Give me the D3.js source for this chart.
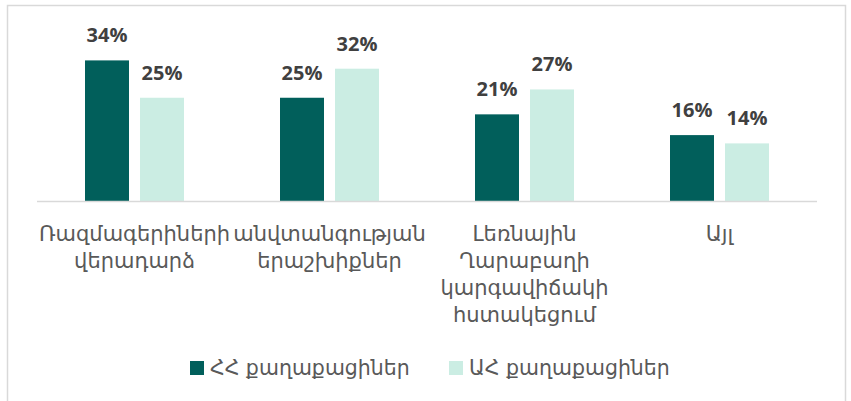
<!DOCTYPE html>
<html>
<head>
<meta charset="utf-8">
<script src="https://cdn.jsdelivr.net/npm/d3@7"></script>
<style>
  html, body { margin: 0; padding: 0; background: #fff; }
  svg { display: block; }
</style>
</head>
<body>
<div class="svg-container"></div>
<script>
// data
const categories = [
    ['Ռազմագերիների', 'վերադարձ'],
    ['անվտանգության', 'երաշխիքներ'],
    ['Լեռնային', 'Ղարաբաղի', 'կարգավիճակի', 'հստակեցում'],
    ['Այլ']
];
const seriesNames = ['ՀՀ քաղաքացիներ', 'ԱՀ քաղաքացիներ'];
const valuesRA = [0.34, 0.25, 0.21, 0.16];
const valuesAR = [0.25, 0.32, 0.27, 0.14];
const colors = ['#015f5b', '#cbede3'];

const W = 851, H = 401;
const baseY = 201.5;
const left = 37, right = 817;

var svg = d3.select('.svg-container')
    .append('svg')
    .attr('width', W)
    .attr('height', H);

// chart frame
svg.append('rect')
    .attr('x', 7.5).attr('y', 5.5)
    .attr('width', 838).attr('height', 410)
    .attr('fill', 'none')
    .attr('stroke', '#d9d9d9')
    .attr('stroke-width', 1.5);

const catKeys = categories.map(d => d.join(' '));
var x0 = d3.scaleBand().domain(catKeys).range([left, right]);
var groupW = 99;
var x1 = d3.scaleBand().domain(seriesNames)
    .range([x0.bandwidth() / 2 - groupW / 2, x0.bandwidth() / 2 + groupW / 2])
    .paddingInner(0.2);
var y = d3.scaleLinear().domain([0, 0.35]).range([baseY, baseY - 0.35 * 415]);

const rows = catKeys.map((c, i) => ({cat: c, lines: categories[i], vals: [valuesRA[i], valuesAR[i]]}));

var g = svg.append('g');

var groups = g.selectAll('.grp')
    .data(rows).enter().append('g')
    .attr('class', 'grp')
    .attr('transform', d => 'translate(' + x0(d.cat) + ',0)');

groups.selectAll('rect')
    .data(d => d.vals.map((v, j) => ({s: seriesNames[j], v: v, j: j})))
    .enter().append('rect')
    .attr('x', d => x1(d.s))
    .attr('y', d => y(d.v))
    .attr('width', x1.bandwidth())
    .attr('height', d => baseY - y(d.v))
    .attr('fill', d => colors[d.j]);

groups.selectAll('.text-label')
    .data(d => d.vals.map((v, j) => ({s: seriesNames[j], v: v, j: j})))
    .enter().append('text')
    .attr('class', 'text-label')
    .attr('x', d => x1(d.s) + x1.bandwidth() / 2)
    .attr('y', d => y(d.v) - 18)
    .attr('text-anchor', 'middle')
    .style('font-family', '"Open Sans", sans-serif')
    .style('font-weight', 'bold')
    .style('font-size', '20px')
    .attr('fill', '#404040')
    .text(d => Math.round(d.v * 100) + '%');

// axis line
g.append('line')
    .attr('x1', left).attr('x2', right)
    .attr('y1', baseY).attr('y2', baseY)
    .attr('stroke', '#d9d9d9')
    .attr('stroke-width', 1.5);

// category labels
groups.append('text')
    .attr('text-anchor', 'middle')
    .attr('fill', '#595959')
    .style('font-family', '"DejaVu Sans", sans-serif')
    .style('font-size', '21px')
    .selectAll('tspan')
    .data(d => d.lines).enter().append('tspan')
    .attr('x', x0.bandwidth() / 2)
    .attr('y', (d, i) => 241 + i * 27)
    .text(d => d);

// legend
const legendX = [190, 449];
var leg = svg.selectAll('.legend')
    .data(seriesNames).enter().append('g')
    .attr('class', 'legend')
    .attr('transform', (d, i) => 'translate(' + legendX[i] + ',361)');
leg.append('rect')
    .attr('width', 14).attr('height', 14)
    .attr('fill', (d, i) => colors[i]);
leg.append('text')
    .attr('x', 20).attr('y', 14)
    .attr('fill', '#595959')
    .style('font-family', '"DejaVu Sans", sans-serif')
    .style('font-size', '20.5px')
    .text(d => d);
</script>
</body>
</html>
